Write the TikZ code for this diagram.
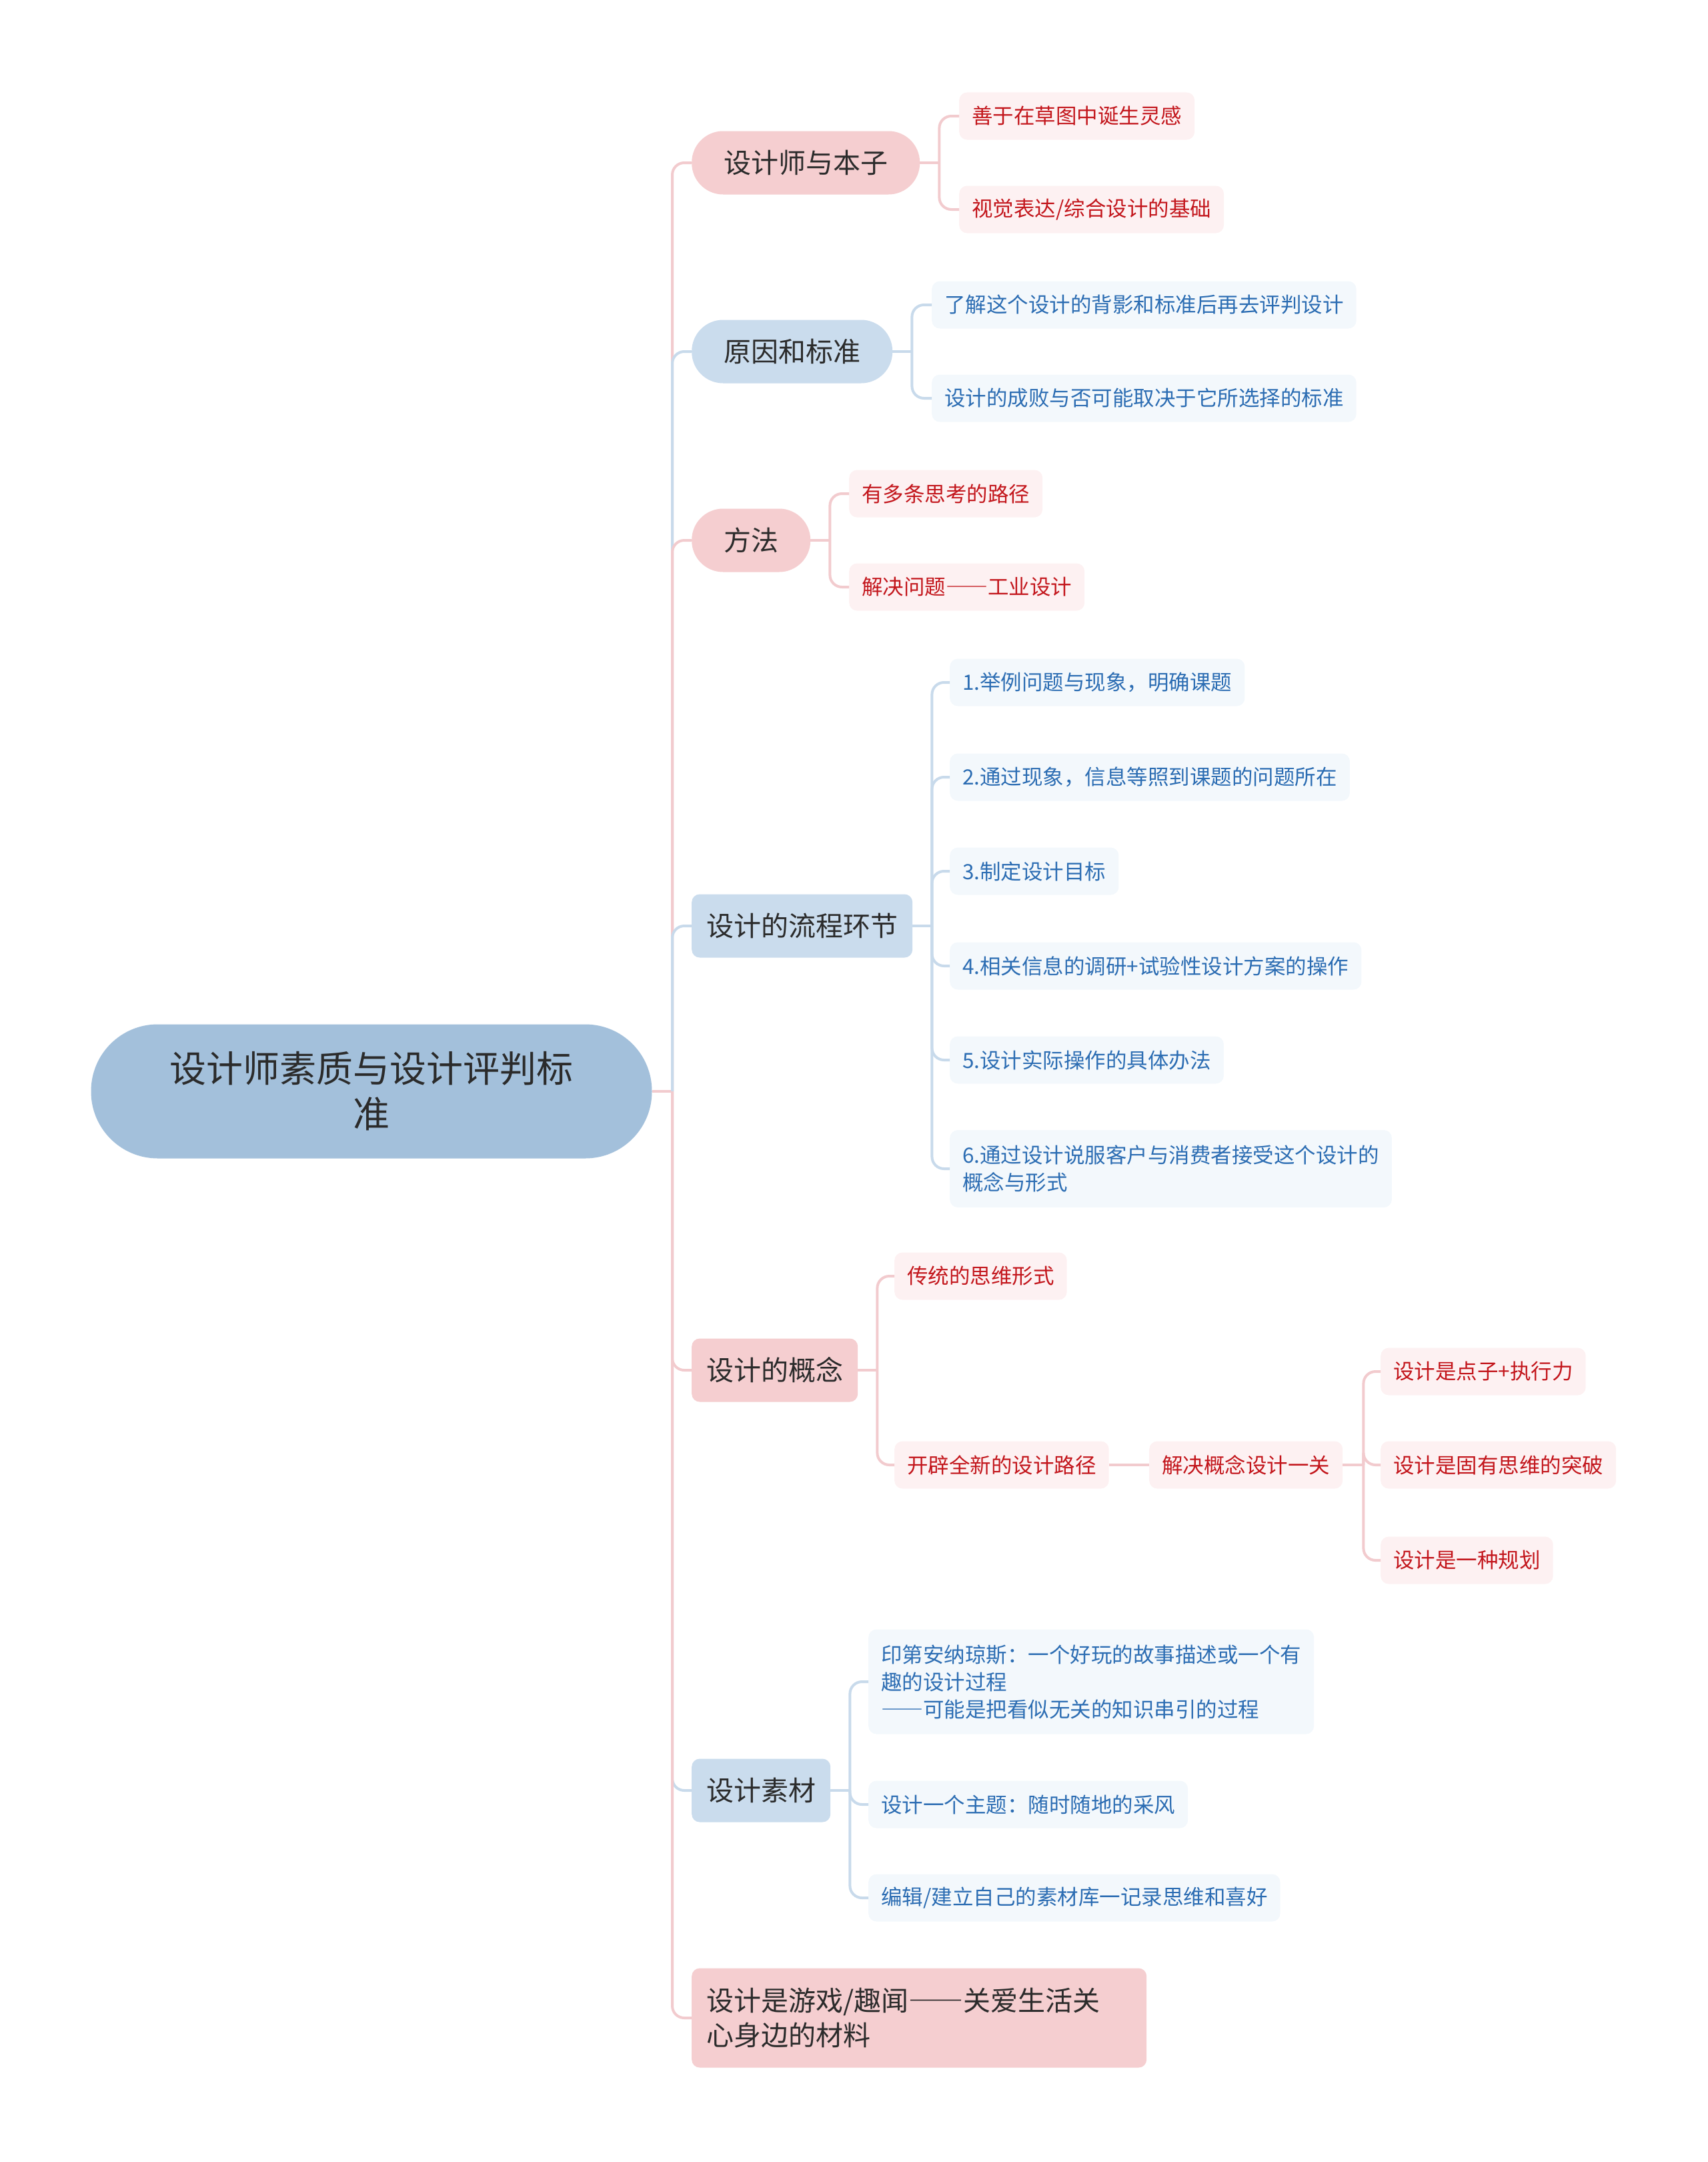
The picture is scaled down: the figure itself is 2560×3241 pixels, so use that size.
\documentclass[tikz,border=0pt]{standalone}
\usepackage{fontspec}
\setmainfont{Noto Sans CJK SC}
\newfontfamily\fwdash[RawFeature=+fwid]{Noto Sans CJK SC}
\newcommand{\longdash}{{\fwdash ——}}
\usetikzlibrary{positioning}
\definecolor{rootfill}{HTML}{A3C0DB}
\definecolor{pinkfill}{HTML}{F5CED0}
\definecolor{bluefill}{HTML}{CADCED}
\definecolor{pinkleaf}{HTML}{FDF1F2}
\definecolor{blueleaf}{HTML}{F3F8FC}
\definecolor{pinkline}{HTML}{F2CBCE}
\definecolor{blueline}{HTML}{C8DAEB}
\definecolor{redtext}{HTML}{C3161C}
\definecolor{bluetext}{HTML}{2C6DB3}
\definecolor{darktext}{HTML}{2B2B2B}
\tikzstyle{rootbox} = [rectangle, rounded corners = 100pt,
  minimum width = 841pt, minimum height = 201pt, fill = rootfill,
  text = darktext, align = center, font = \fontsize{55}{68}\selectfont]
\tikzstyle{pill} = [
  rectangle, rounded corners = 47pt, anchor = west,
  minimum height = 95pt, inner xsep = 48pt, text = darktext,
  font = \fontsize{41}{52}\selectfont
]
\tikzstyle{topic} = [
  rectangle, rounded corners = 12pt, anchor = west,
  minimum height = 95pt, inner xsep = 22pt, text = darktext, align = left,
  font = \fontsize{41}{52}\selectfont
]
\tikzstyle{leaf} = [
  rectangle, rounded corners = 12pt, anchor = west,
  minimum height = 71pt, inner xsep = 19pt, align = left,
  font = \fontsize{31.5}{41}\selectfont
]
\tikzstyle{redleaf} = [leaf, fill = pinkleaf, text = redtext]
\tikzstyle{blueleafbox} = [leaf, fill = blueleaf, text = bluetext]
\tikzstyle{pinkbranch} = [draw = pinkline, line width = 4pt, rounded corners = 18pt]
\tikzstyle{bluebranch} = [draw = blueline, line width = 4pt, rounded corners = 18pt]

\begin{document}
\begin{tikzpicture}[x = 1pt, y = -1pt]
      \useasboundingbox (0, 0) rectangle (2560, 3241);
      % root
      \node [rootbox] (root) at (557, 1636) {设计师素质与设计评判标\\准};
      \coordinate (spine) at (1008, 1636);
      % level 1
      \node [pill, fill = pinkfill] (sketch) at (1037, 244) {设计师与本子};
      \node [pill, fill = bluefill] (reason) at (1037, 527) {原因和标准};
      \node [pill, fill = pinkfill] (method) at (1037, 810) {方法};
      \node [topic, fill = bluefill] (process) at (1037, 1388) {设计的流程环节};
      \node [topic, fill = pinkfill] (concept) at (1037, 2054) {设计的概念};
      \node [topic, fill = bluefill] (material) at (1037, 2684) {设计素材};
      \node [topic, fill = pinkfill, minimum height = 149pt, text width = 638pt]
        (game) at (1037, 3025) {设计是游戏/趣闻\longdash 关爱生活关\\心身边的材料};
      % sketch
      \node [redleaf] (sketch-a) at (1438, 174) {善于在草图中诞生灵感};
      \node [redleaf] (sketch-b) at (1438, 314) {视觉表达/综合设计的基础};
      % reason
      \node [blueleafbox] (reason-a) at (1397, 457) {了解这个设计的背影和标准后再去评判设计};
      \node [blueleafbox] (reason-b) at (1397, 597) {设计的成败与否可能取决于它所选择的标准};
      % method
      \node [redleaf] (method-a) at (1273, 740) {有多条思考的路径};
      \node [redleaf] (method-b) at (1273, 880) {解决问题\longdash 工业设计};
      % process
      \node [blueleafbox] (process-1) at (1424, 1023) {1.举例问题与现象，明确课题};
      \node [blueleafbox] (process-2) at (1424, 1165) {2.通过现象，信息等照到课题的问题所在};
      \node [blueleafbox] (process-3) at (1424, 1306) {3.制定设计目标};
      \node [blueleafbox] (process-4) at (1424, 1448) {4.相关信息的调研+试验性设计方案的操作};
      \node [blueleafbox] (process-5) at (1424, 1589) {5.设计实际操作的具体办法};
      \node [blueleafbox, minimum height = 116pt] (process-6) at (1424, 1752)
        {6.通过设计说服客户与消费者接受这个设计的\\概念与形式};
      % concept
      \node [redleaf] (concept-a) at (1341, 1913) {传统的思维形式};
      \node [redleaf] (concept-b) at (1341, 2196) {开辟全新的设计路径};
      \node [redleaf] (concept-c) at (1723, 2196) {解决概念设计一关};
      \node [redleaf] (concept-c-1) at (2070, 2056) {设计是点子+执行力};
      \node [redleaf] (concept-c-2) at (2070, 2196) {设计是固有思维的突破};
      \node [redleaf] (concept-c-3) at (2070, 2339) {设计是一种规划};
      % material
      \node [blueleafbox, minimum height = 157pt] (material-a) at (1302, 2521)
        {印第安纳琼斯：一个好玩的故事描述或一个有\\趣的设计过程\\\longdash 可能是把看似无关的知识串引的过程};
      \node [blueleafbox] (material-b) at (1302, 2705) {设计一个主题：随时随地的采风};
      \node [blueleafbox] (material-c) at (1302, 2845) {编辑/建立自己的素材库一记录思维和喜好};

      % main branches
      \draw [pinkbranch] (root.east) -- (spine);
      \draw [pinkbranch] (spine) |- (sketch.west);
      \draw [bluebranch] (spine) |- (reason.west);
      \draw [pinkbranch] (spine) |- (method.west);
      \draw [bluebranch] (spine) |- (process.west);
      \draw [bluebranch] (spine) |- (material.west);
      \draw [pinkbranch] (spine) |- (game.west);
      \draw [pinkbranch] (spine) |- (concept.west);
      % sketch
      \coordinate (sketch-j) at ([xshift = 29pt] sketch.east);
      \draw [pinkbranch] (sketch.east) -- (sketch-j);
      \draw [pinkbranch] (sketch-j) |- (sketch-a.west);
      \draw [pinkbranch] (sketch-j) |- (sketch-b.west);
      % reason
      \coordinate (reason-j) at ([xshift = 29pt] reason.east);
      \draw [bluebranch] (reason.east) -- (reason-j);
      \draw [bluebranch] (reason-j) |- (reason-a.west);
      \draw [bluebranch] (reason-j) |- (reason-b.west);
      % method
      \coordinate (method-j) at ([xshift = 29pt] method.east);
      \draw [pinkbranch] (method.east) -- (method-j);
      \draw [pinkbranch] (method-j) |- (method-a.west);
      \draw [pinkbranch] (method-j) |- (method-b.west);
      % process
      \coordinate (process-j) at ([xshift = 29pt] process.east);
      \draw [bluebranch] (process.east) -- (process-j);
      \foreach \i in {1, ..., 6}
        \draw [bluebranch] (process-j) |- (process-\i.west);
      % concept
      \coordinate (concept-j) at ([xshift = 29pt] concept.east);
      \draw [pinkbranch] (concept.east) -- (concept-j);
      \draw [pinkbranch] (concept-j) |- (concept-a.west);
      \draw [pinkbranch] (concept-j) |- (concept-b.west);
      \draw [pinkbranch] (concept-b) -- (concept-c);
      \coordinate (concept-c-j) at ([xshift = 31pt] concept-c.east);
      \draw [pinkbranch] (concept-c.east) -- (concept-c-j);
      \foreach \i in {1, 2, 3}
        \draw [pinkbranch] (concept-c-j) |- (concept-c-\i.west);
      % material
      \coordinate (material-j) at ([xshift = 29pt] material.east);
      \draw [bluebranch] (material.east) -- (material-j);
      \foreach \i in {a, b, c}
        \draw [bluebranch] (material-j) |- (material-\i.west);
    \end{tikzpicture}
\end{document}
